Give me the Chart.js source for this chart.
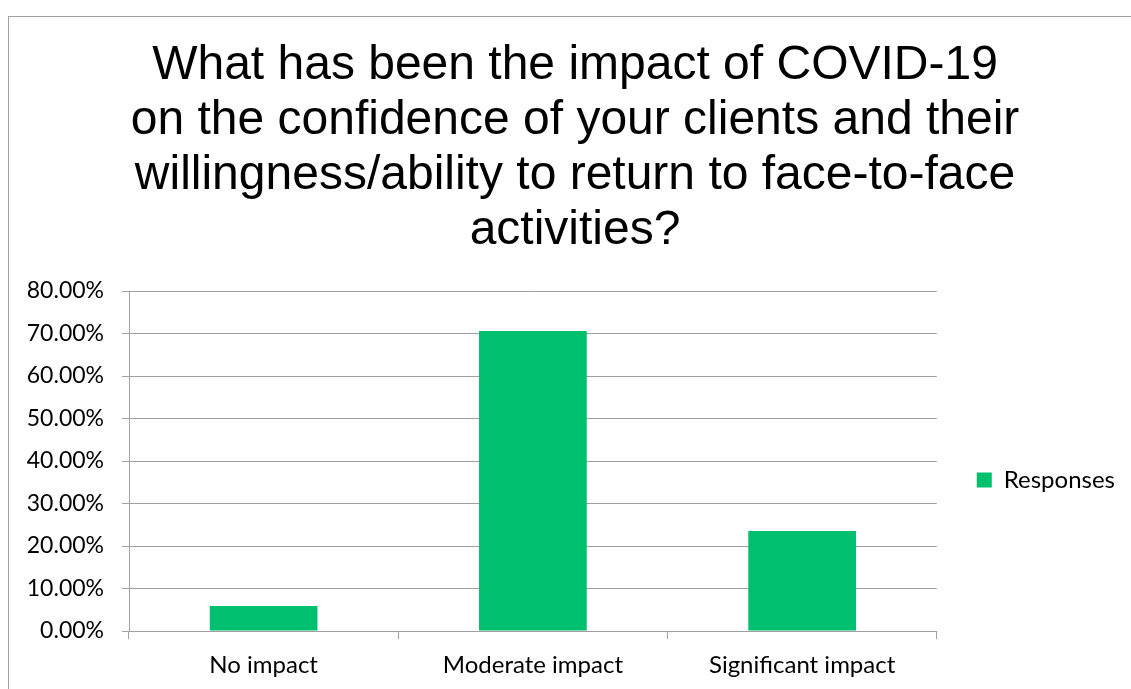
<!DOCTYPE html>
<html>
<head>
<meta charset="utf-8">
<title>COVID-19 impact on client confidence</title>
<script src="https://cdn.jsdelivr.net/npm/chart.js@4.4.1/dist/chart.umd.min.js"></script>
<style>
    html, body { margin: 0; padding: 0; overflow: hidden; background: #fff; }
    #wrap {
        position: absolute;
        left: 8px;
        top: 16px;
        width: 1140px;
        height: 926px;
        border: 1px solid #a0a0a0;
    }
</style>
</head>
<body>
<div id="wrap"><canvas id="impactChart"></canvas></div>
<script>
// chart data
const categories = ['No impact', 'Moderate impact', 'Significant impact'];
const responses = [5.88, 70.59, 23.53];
const seriesName = 'Responses';
const titleLines = [
    'What has been the impact of COVID-19',
    'on the confidence of your clients and their',
    'willingness/ability to return to face-to-face',
    'activities?'
];
const yMin = 0;
const yMax = 80;
const yStep = 10;

document.addEventListener('DOMContentLoaded', function() {
    const gridColor = '#a0a0a0';
    Chart.defaults.font.family = 'Lato, Carlito, Calibri, sans-serif';
    Chart.defaults.color = '#000';

    new Chart(document.getElementById('impactChart'), {
        type: 'bar',
        data: {
            labels: categories,
            datasets: [{
                label: seriesName,
                data: responses,
                backgroundColor: '#00bf6f',
                borderWidth: 0,
                categoryPercentage: 1,
                barPercentage: 0.4
            }]
        },
        options: {
            responsive: true,
            maintainAspectRatio: false,
            animation: false,
            layout: {
                padding: { left: 16, right: 24, top: 0, bottom: 0 }
            },
            plugins: {
                title: {
                    display: true,
                    text: titleLines,
                    color: '#000',
                    font: { family: '"Liberation Sans", Arial, sans-serif', size: 48, weight: 'normal', lineHeight: 1.146 },
                    padding: { top: 21, bottom: 33 }
                },
                legend: {
                    position: 'right',
                    labels: {
                        boxWidth: 15,
                        boxHeight: 15,
                        padding: 40,
                        font: { size: 24 }
                    }
                },
                tooltip: { enabled: false }
            },
            scales: {
                x: {
                    grid: {
                        display: true,
                        drawOnChartArea: false,
                        drawTicks: true,
                        tickLength: 8,
                        color: gridColor
                    },
                    border: { color: gridColor },
                    ticks: {
                        padding: 12,
                        font: { size: 24 }
                    },
                    afterFit: function(scale) {
                        scale.height = 312;
                    }
                },
                y: {
                    min: yMin,
                    max: yMax,
                    grid: {
                        color: gridColor,
                        tickLength: 7
                    },
                    border: { color: gridColor },
                    ticks: {
                        stepSize: yStep,
                        padding: 18,
                        font: { size: 23 },
                        callback: function(value) {
                            return value.toFixed(2) + '%';
                        }
                    },
                    afterFit: function(scale) {
                        scale.width = 104;
                    }
                }
            }
        }
    });
});
</script>
</body>
</html>
